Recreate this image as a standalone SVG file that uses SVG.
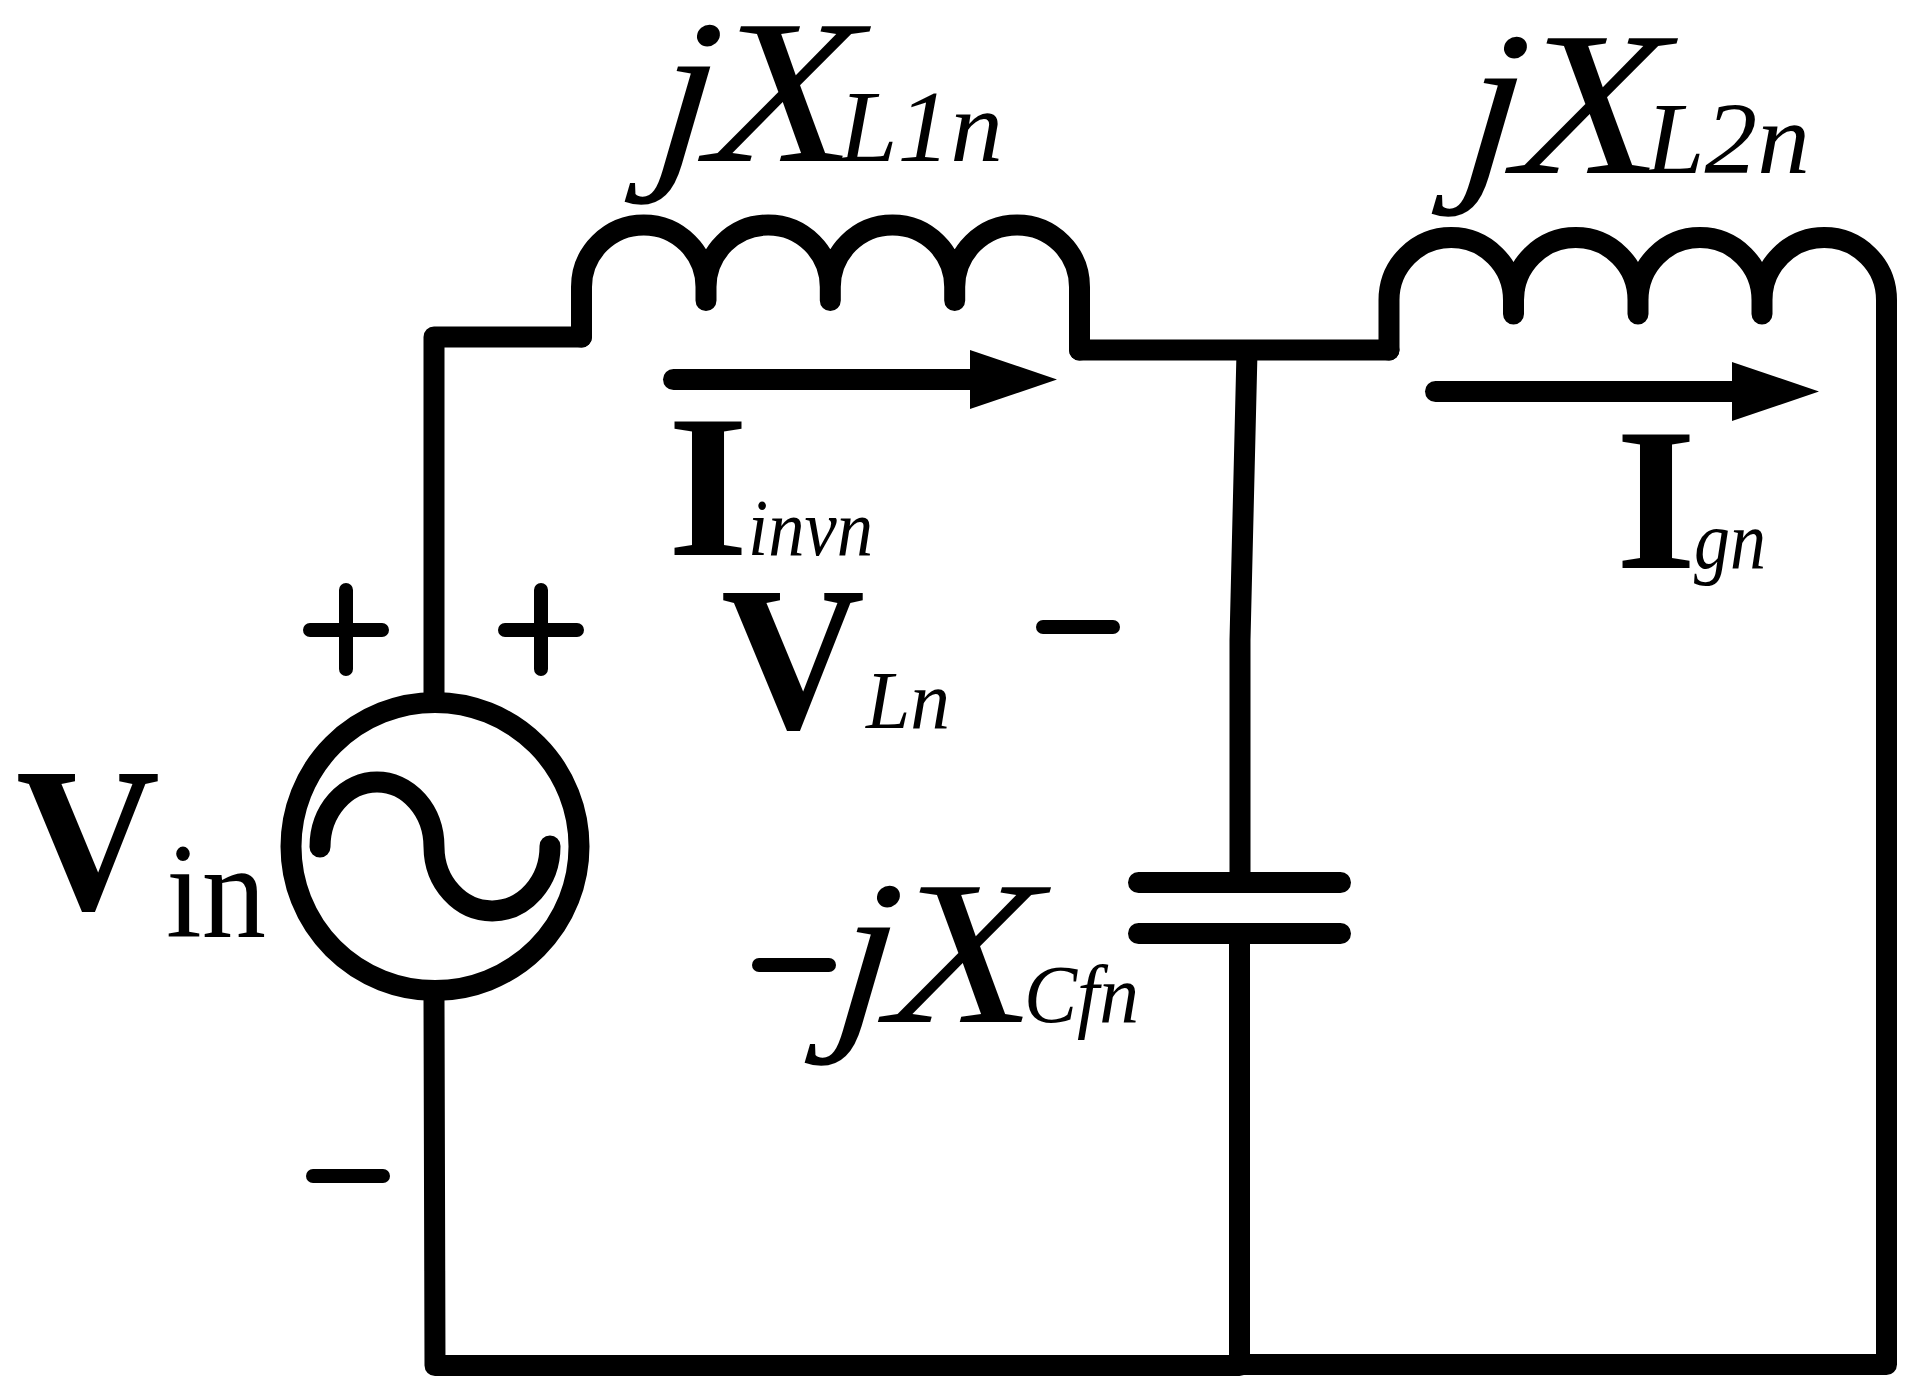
<svg xmlns="http://www.w3.org/2000/svg" width="1924" height="1390" viewBox="0 0 1924 1390">
<style>
.w{fill:none;stroke:#000;stroke-width:21;stroke-linecap:round;stroke-linejoin:round}
.s{fill:none;stroke:#000;stroke-width:14;stroke-linecap:round}
.h{fill:#000}
text{font-family:"Liberation Serif","Times New Roman",serif;fill:#000}
.b{font-weight:bold}
.i{font-style:italic}
.big{font-style:italic;font-size:206px}
</style>
<rect width="1924" height="1390" fill="#fff"/>
<g id="connectors">
<path class="w" d="M434,700V337H581.500"/>
<path class="w" d="M434,1000L435,1365.500H1239.500"/>
<path class="w" d="M1079.500,350H1389"/>
<path class="w" d="M1247,352L1240,640V873"/>
<path class="w" d="M1239.500,944V1364.500H1886.500V320"/>
<path class="w" d="M673.500,379.500H975"/>
<path class="h" d="M970,350L1057,379.500L970,409Z"/>
<path class="w" d="M1435.500,391.500H1738"/>
<path class="h" d="M1732,362L1819,391.500L1732,421Z"/>
</g>
<g id="source">
<circle cx="435" cy="846.500" r="144" fill="#fff" stroke="#000" stroke-width="21"/>
<path class="w" d="M320,847A57,65 0 0 1 434,847A58,64.500 0 0 0 550,846"/>
</g>
<g id="inductor1"><path class="w" d="M581.500,337V287A62.250,62 0 0 1 706,287V300.500V287A62.150,62 0 0 1 830.300,287V300.500V287A62.200,62 0 0 1 954.700,287V300.500V287A62.400,62 0 0 1 1079.500,287V350"/></g>
<g id="inductor2"><path class="w" d="M1389,350V300A62.250,62.500 0 0 1 1513.500,300V314V300A62.250,62.500 0 0 1 1638,300V314V300A62,62.500 0 0 1 1762,300V314V300A62.250,62.500 0 0 1 1886.500,300V320"/></g>
<g id="capacitor">
<path class="w" d="M1138.500,882.500H1340.500M1138.500,933.500H1340.500"/>
</g>
<g id="polarity">
<path class="s" d="M310,630H382M346,590V669"/>
<path class="s" d="M505,630H577M541,590V669"/>
<path class="s" d="M313,1176H383"/>
<path class="s" d="M1043,627H1113"/>
</g>
<g id="label-xl1">
<text class="big" transform="translate(652,160.500) skewX(-6)" textLength="60" lengthAdjust="spacingAndGlyphs">j</text>
<text class="big" transform="translate(706,160.500) skewX(-3)" textLength="150" lengthAdjust="spacingAndGlyphs">X</text>
<text class="i" x="839" y="160.500" font-size="102" textLength="164" lengthAdjust="spacingAndGlyphs">L1n</text>
</g>
<g id="label-xl2">
<text class="big" transform="translate(1459,173) skewX(-6)" textLength="60" lengthAdjust="spacingAndGlyphs">j</text>
<text class="big" transform="translate(1513,173) skewX(-3)" textLength="150" lengthAdjust="spacingAndGlyphs">X</text>
<text class="i" x="1646" y="173" font-size="102" textLength="164" lengthAdjust="spacingAndGlyphs">L2n</text>
</g>
<g id="label-iinv">
<text class="b" x="667.500" y="555" font-size="204" textLength="81" lengthAdjust="spacingAndGlyphs">I</text>
<text class="i" x="748" y="555" font-size="80" textLength="125" lengthAdjust="spacingAndGlyphs">invn</text>
</g>
<g id="label-ig">
<text class="b" x="1615.500" y="568" font-size="204" textLength="81" lengthAdjust="spacingAndGlyphs">I</text>
<text class="i" x="1694" y="568" font-size="82" textLength="72" lengthAdjust="spacingAndGlyphs">gn</text>
</g>
<g id="label-vl">
<text class="b" x="721" y="728" font-size="206" textLength="144" lengthAdjust="spacingAndGlyphs">V</text>
<text class="i" x="866" y="728" font-size="82" textLength="84" lengthAdjust="spacingAndGlyphs">Ln</text>
</g>
<g id="label-vin">
<text class="b" x="16" y="909" font-size="206" textLength="144" lengthAdjust="spacingAndGlyphs">V</text>
<text x="166" y="937" font-size="135" textLength="100" lengthAdjust="spacingAndGlyphs">in</text>
</g>
<g id="label-xc">
<path class="s" d="M759,965H829"/>
<text class="big" transform="translate(832,1021.500) skewX(-6)" textLength="60" lengthAdjust="spacingAndGlyphs">j</text>
<text class="big" transform="translate(886,1021.500) skewX(-3)" textLength="150" lengthAdjust="spacingAndGlyphs">X</text>
<text class="i" x="1024" y="1021.500" font-size="82" textLength="115" lengthAdjust="spacingAndGlyphs">Cfn</text>
</g>
</svg>
